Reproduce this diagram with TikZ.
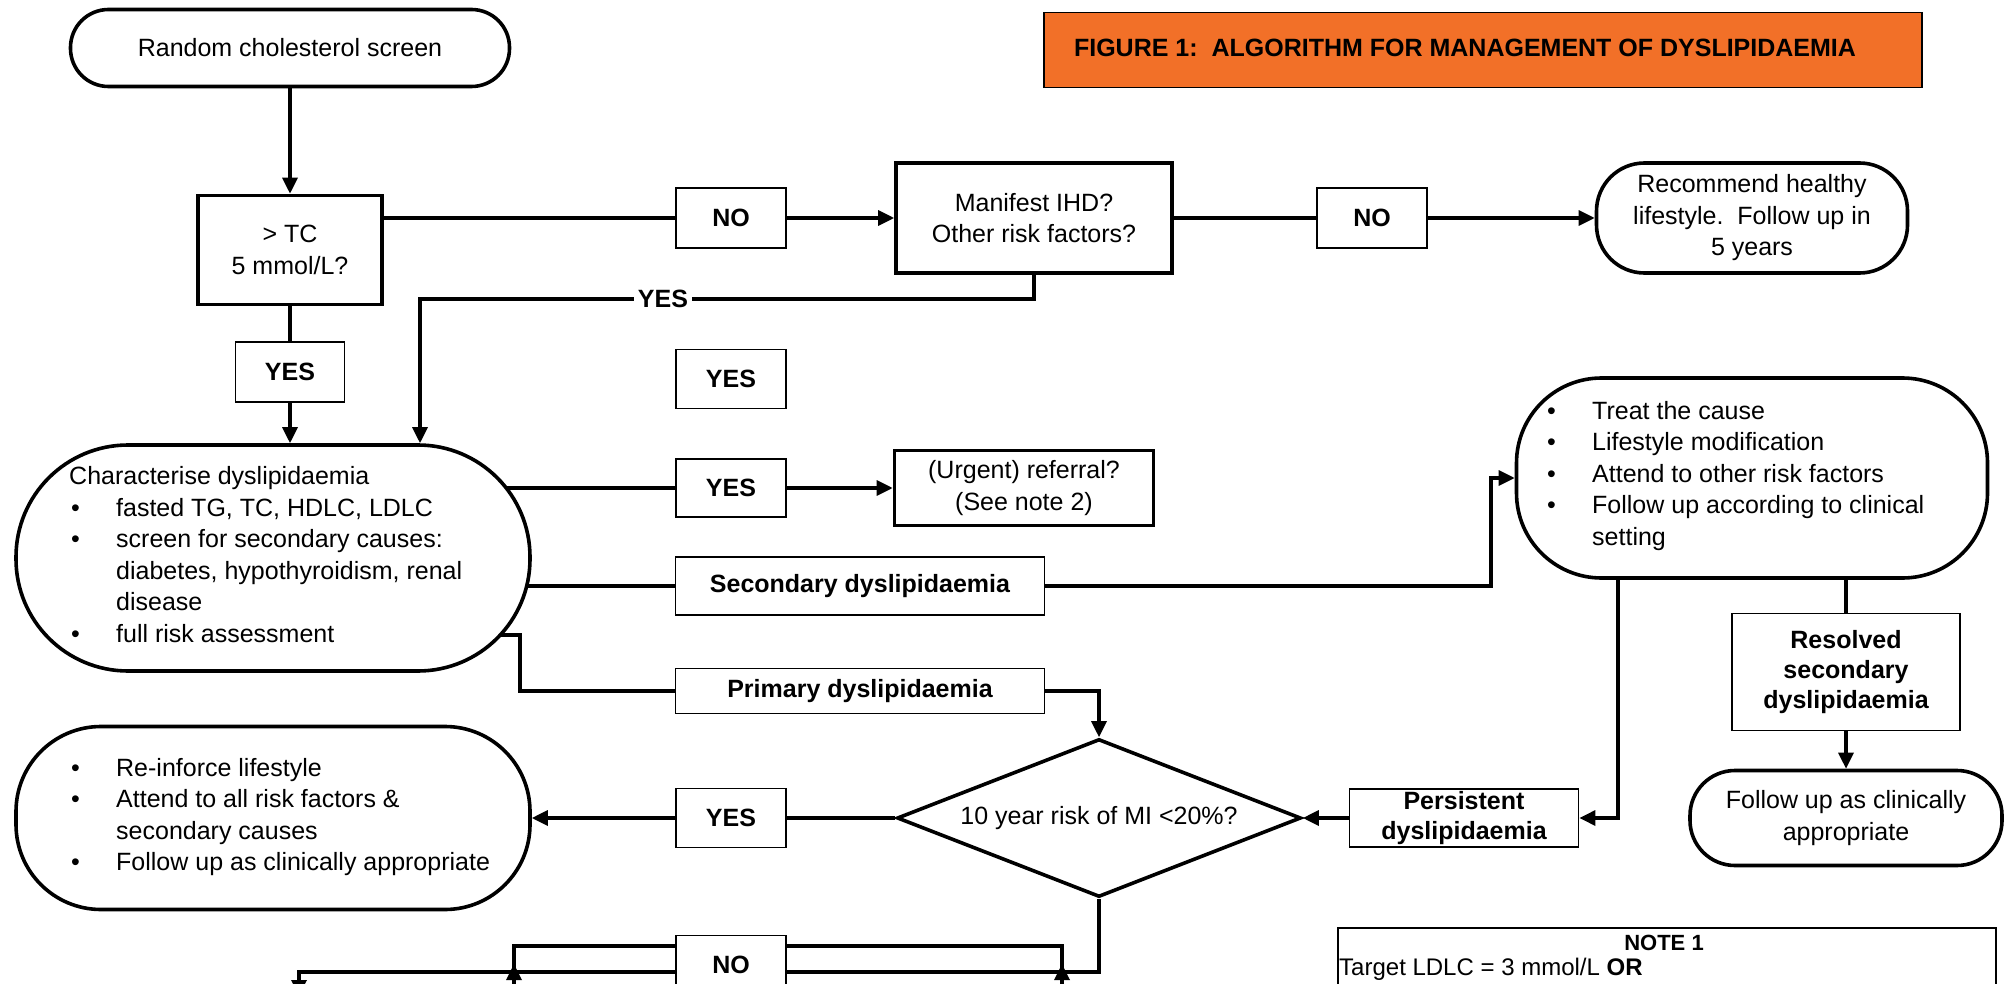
\documentclass[tikz,border=0pt]{standalone}
\usepackage{fontspec}
\setmainfont{Liberation Sans}
\usetikzlibrary{shapes.geometric,arrows.meta,backgrounds}
\definecolor{titleorange}{RGB}{242,112,40}
\begin{document}
\begin{tikzpicture}[x=1pt,y=-1pt,font=\fontsize{25}{31.5}\selectfont]
\tikzset{
  box/.style={draw,line width=3.6pt,fill=white,inner sep=0pt},
  terminal/.style={box,rounded corners=#1},
  tag/.style={draw,line width=1.8pt,fill=white,inner sep=0pt,font=\fontsize{25}{30}\selectfont\bfseries},
  flow/.style={line width=3.3pt},
  arr/.style={flow,-{Triangle[length=16pt,width=15pt]}}
}
\useasboundingbox (0,0) rectangle (2005,984);
\clip (0,0) rectangle (2005,984);
\node[draw,line width=1.5pt,fill=titleorange,minimum width=878pt,minimum height=75pt] (title) at (1483,50) {};
\node[font=\fontsize{25}{30}\selectfont\bfseries] (titletext) at (1465,48) {FIGURE 1:\ \ ALGORITHM FOR MANAGEMENT OF DYSLIPIDAEMIA};
\node[terminal=38pt,minimum width=439pt,minimum height=77pt] (start) at (290,48) {Random cholesterol screen};
\node[box,minimum width=184pt,minimum height=109pt,align=center] (tc) at (290,250) {> TC\\5 mmol/L?};
\node[tag,minimum width=109pt,minimum height=60pt] (tcyes) at (290,372) {YES};
\node[tag,minimum width=110pt,minimum height=60pt] (tcno) at (731,218) {NO};
\node[box,minimum width=276pt,minimum height=110pt,align=center] (ihd) at (1034,218) {Manifest IHD?\\Other risk factors?};
\node[tag,minimum width=110pt,minimum height=60pt] (ihdno) at (1372,218) {NO};
\node[terminal=48pt,minimum width=311pt,minimum height=110pt,align=center] (healthy) at (1752,218) {Recommend healthy\\lifestyle.\ \ Follow up in\\5 years};
\node[fill=white,inner xsep=4pt,inner ysep=2pt,font=\fontsize{25}{30}\selectfont\bfseries] (ihdyes) at (663,299) {YES};
\node[tag,minimum width=110pt,minimum height=59pt] (spareyes) at (731,379) {YES};
\node[terminal=112pt,minimum width=514pt,minimum height=226pt] (char) at (273,558) {};
\node[anchor=west,inner sep=0pt] (chartext) at (69,557) {\begin{tabular}{@{}p{47pt}@{}l@{}}
\multicolumn{2}{@{}l@{}}{Characterise dyslipidaemia}\\
\hspace{2pt}\textbullet & fasted TG, TC, HDLC, LDLC\\
\hspace{2pt}\textbullet & screen for secondary causes:\\
 & diabetes, hypothyroidism, renal\\
 & disease\\
\hspace{2pt}\textbullet & full risk assessment
\end{tabular}};
\node[tag,minimum width=110pt,minimum height=58pt] (charyes) at (731,488) {YES};
\node[box,minimum width=259pt,minimum height=75pt,align=center] (urgent) at (1024,488) {(Urgent) referral?\\(See note 2)};
\node[tag,minimum width=369pt,minimum height=58pt] (sec) at (860,586) {Secondary dyslipidaemia};
\node[tag,minimum width=369pt,minimum height=45pt] (prim) at (860,691) {Primary dyslipidaemia};
\node[box,diamond,aspect=2.56,minimum width=404pt,minimum height=158pt] (risk) at (1099,818) {10 year risk of MI <20\%?};
\node[tag,minimum width=110pt,minimum height=59pt] (riskyes) at (731,818) {YES};
\node[terminal=85pt,minimum width=514pt,minimum height=183pt] (reinforce) at (273,818) {};
\node[anchor=west,inner sep=0pt] (reinforcetext) at (71,817) {\begin{tabular}{@{}p{45pt}@{}l@{}}
\textbullet & Re-inforce lifestyle\\
\textbullet & Attend to all risk factors \&\\
 & secondary causes\\
\textbullet & Follow up as clinically appropriate
\end{tabular}};
\node[terminal=85pt,minimum width=471pt,minimum height=200pt] (treat) at (1752,478) {};
\node[anchor=west,inner sep=0pt] (treattext) at (1547,476) {\begin{tabular}{@{}p{45pt}@{}l@{}}
\textbullet & Treat the cause\\
\textbullet & Lifestyle modification\\
\textbullet & Attend to other risk factors\\
\textbullet & Follow up according to clinical\\
 & setting
\end{tabular}};
\node[tag,minimum width=229pt,minimum height=58pt,align=center] (persist) at (1464,818) {Persistent\\dyslipidaemia};
\node[tag,minimum width=228pt,minimum height=117pt,align=center] (resolved) at (1846,672) {Resolved\\secondary\\dyslipidaemia};
\node[terminal=45pt,minimum width=312pt,minimum height=95pt,align=center] (follow) at (1846,818) {Follow up as clinically\\appropriate};
\node[tag,minimum width=110pt,minimum height=59pt] (riskno) at (731,965) {NO};
\node[draw,line width=1.8pt,anchor=north west,minimum width=658pt,minimum height=100pt] (note) at (1337,927) {};
\node[inner sep=0pt,font=\fontsize{22}{26}\selectfont\bfseries] (notehead) at (1664,943) {NOTE 1};
\node[anchor=west,inner sep=0pt,font=\fontsize{24}{28}\selectfont] (noteline) at (1339,969) {Target LDLC = 3 mmol/L \textbf{OR}};
\coordinate (lostleft) at (514,1000);
\coordinate (lostright) at (1062,1000);
\coordinate (lostdown) at (299,996);
\begin{scope}[on background layer]
\draw[arr] (start) -- (tc);
\draw[flow] (tc.east |- tcno) -- (tcno);
\draw[arr] (tcno) -- (ihd);
\draw[flow] (ihd) -- (ihdno);
\draw[arr] (ihdno) -- (healthy);
\draw[flow] (tc) -- (tcyes);
\draw[arr] (tcyes.south) -- (tcyes.south |- char.north);
\draw[arr] (ihd.south) |- ([xshift=147pt]char.north |- ihdyes) -- ([xshift=147pt]char.north);
\draw[flow] (char.center |- charyes) -- (charyes);
\draw[arr] (charyes) -- (urgent);
\draw[flow] (char.center |- sec) -- (sec);
\draw[arr] (sec) -- (1491,586) |- (treat.west);
\draw[flow] (char.center |- 0,635) -- (520,635) |- (prim);
\draw[arr] (prim.east) -| (risk.north);
\draw[flow] (risk) -- (riskyes);
\draw[arr] (riskyes) -- (reinforce);
\draw[arr] (treat.south -| 1618,0) |- (persist.east);
\draw[arr] (persist) -- (risk);
\draw[flow] (treat.south -| resolved) -- (resolved);
\draw[arr] (resolved) -- (follow);
\draw[arr] (risk.south) |- (lostdown |- 0,972) -- (lostdown);
\draw[arr] (lostleft) -- (514,964);
\draw[arr] (lostright) -- (1062,964);
\draw[flow] (514,972) -- (514,946) -- (1062,946) -- (1062,972);
\end{scope}
\end{tikzpicture}
\end{document}
